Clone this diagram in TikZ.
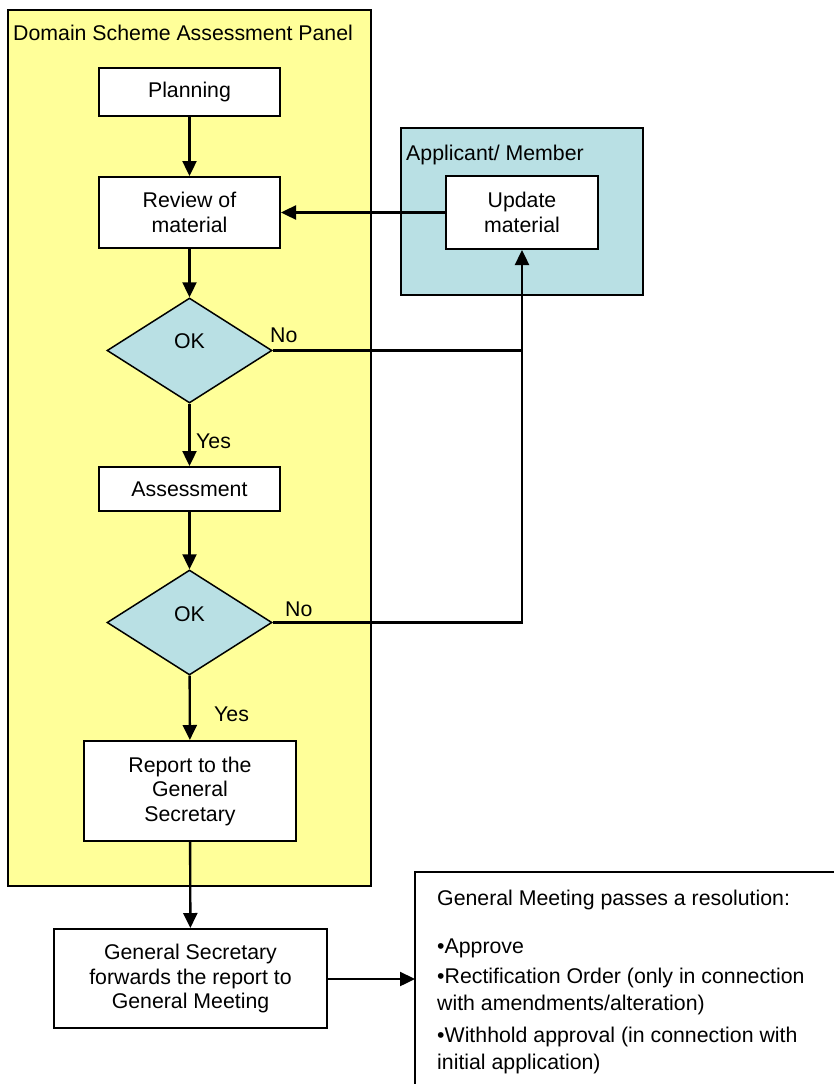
\documentclass[tikz,border=0pt]{standalone}
\usepackage{fontspec}
\setmainfont{Liberation Sans}
\usetikzlibrary{shapes.geometric,arrows.meta}
\definecolor{panelyellow}{HTML}{FFFF99}
\definecolor{panelteal}{HTML}{B9E0E4}
\tikzset{
  every node/.style={font=\fontsize{21.3}{24.5}\selectfont},
  procbox/.style={draw=black,line width=2pt,fill=white,minimum width=181pt,align=center,inner sep=0pt},
  decision/.style={draw=black,line width=1.5pt,fill=panelteal,diamond,aspect=1.57,minimum width=165pt,minimum height=105pt,inner sep=0pt},
  conn/.style={draw=black,line width=2.4pt},
  arr/.style={conn,-{Triangle[length=15pt,width=14pt]}},
  lbl/.style={inner sep=0pt,anchor=west}
}
\begin{document}
\begin{tikzpicture}[x=1pt,y=-1pt]
\useasboundingbox (0,0) rectangle (833,1084);
% panels
\draw[fill=panelyellow,line width=1.5pt] (8,10) rectangle (371,886);
\node[lbl] (paneltitle) at (13,33) {Domain Scheme Assessment Panel};
\draw[fill=panelteal,line width=1.5pt] (401,128) rectangle (643,295);
\node[lbl] (apptitle) at (406,155) {Applicant/ Member};
% result box (extends beyond page)
\draw[fill=white,line width=2pt] (415,872) rectangle (900,1200);
\node[anchor=north west,align=left,inner sep=0pt,font=\fontsize{21.3}{27}\selectfont] (result) at (437,889.5)
  {General Meeting passes a resolution:\\[21pt]
   •Approve\\[3pt]
   •Rectification Order (only in connection\\
   with amendments/alteration)\\[5pt]
   •Withhold approval (in connection with\\
   initial application)};
% process nodes
\node[procbox,minimum height=48pt] (plan) at (189.5,92) {Planning};
\node[procbox,minimum height=71pt] (review) at (189.5,212.5) {Review of\\material};
\node[decision] (ok1) at (189.5,350.5) {};
\node at (189.5,341) {OK};
\node[procbox,minimum height=44pt] (assess) at (189.5,489) {Assessment};
\node[decision] (ok2) at (189.5,622.5) {};
\node at (189.5,614) {OK};
\node[procbox,minimum width=212pt,minimum height=100pt] (report) at (190,791) {Report to the\\General\\Secretary};
\node[procbox,minimum width=273pt,minimum height=99pt] (gs) at (190.5,978.5) {General Secretary\\forwards the report to\\General Meeting};
\node[procbox,minimum width=152pt,minimum height=73pt] (update) at (522,212.5) {Update\\material};
\coordinate (j1) at (522,350.5);
\coordinate (j2) at (522,622.5);
\coordinate (resin) at (415,979);
% connectors
\draw[arr] (plan) -- (review);
\draw[arr] (review) -- (ok1);
\draw[arr] (ok1) -- (assess);
\draw[arr] (assess) -- (ok2);
\draw[arr] (ok2) -- (report);
\draw[arr] (report) -- (gs);
\draw[arr] (update) -- (review);
\draw[conn] (ok1.east) -- (j1);
\draw[arr] (ok2.east) -- (j2) -- (update.south);
\draw[arr] (gs.east |- resin) -- (resin);
% labels
\node[lbl] (no1) at (270,335) {No};
\node[lbl] (no2) at (285,609) {No};
\node[lbl] (yes1) at (196,441) {Yes};
\node[lbl] (yes2) at (214,714) {Yes};
\end{tikzpicture}
\end{document}
